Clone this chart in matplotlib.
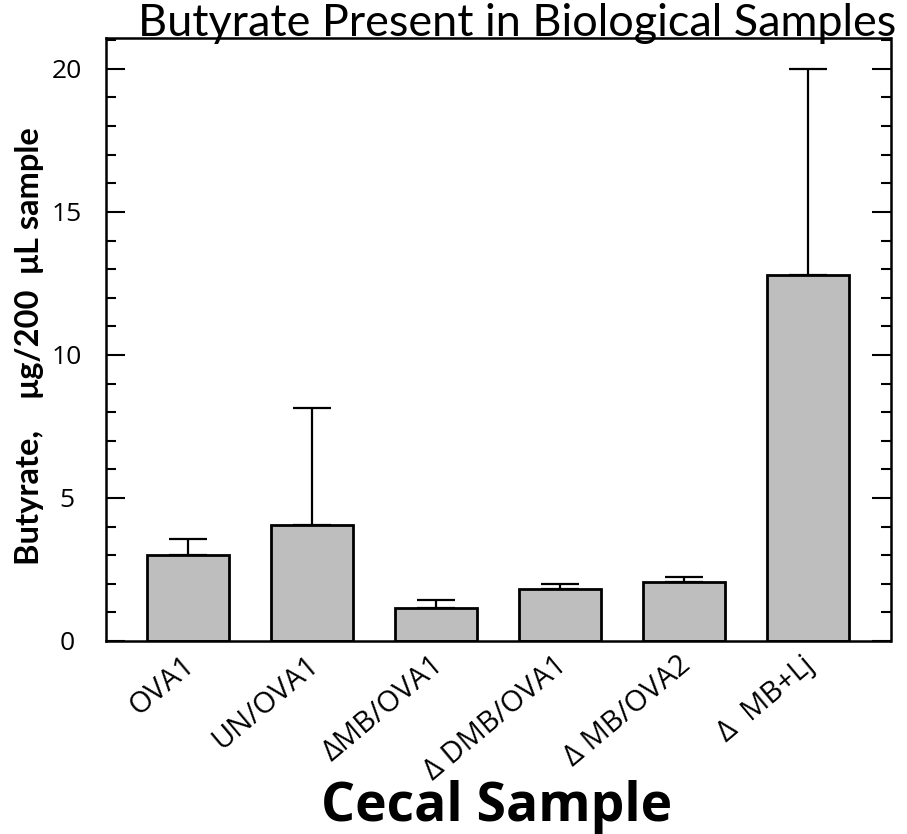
import numpy as np
import matplotlib
matplotlib.use("Agg")
import matplotlib.pyplot as plt
import matplotlib.transforms as mtransforms
from matplotlib.ticker import MultipleLocator

samples = ["OVA1", "UN/OVA1", "\u0394MB/OVA1", "\u0394 DMB/OVA1", "\u0394 MB/OVA2", "\u0394  MB+Lj"]
butyrate = [3.01, 4.07, 1.14, 1.83, 2.05, 12.79]
err_upper = [0.55, 4.08, 0.29, 0.15, 0.18, 7.22]

fig = plt.figure(figsize=(9.07, 8.34), dpi=100)
ax = fig.add_axes([106/907, 1 - 641/834, (890.5 - 106)/907, (641 - 38)/834])

x = np.arange(len(samples))
ax.bar(x, butyrate, width=0.66, color="#bebebe", edgecolor="black", linewidth=2.0,
       zorder=2)
ax.errorbar(x, butyrate, yerr=[np.zeros(len(x)), err_upper], fmt="none",
            ecolor="black", elinewidth=1.6, capsize=14, capthick=1.6, zorder=1)

ax.set_xlim(-0.661, 5.665)
ax.set_ylim(0, 21.08)
ax.yaxis.set_major_locator(MultipleLocator(5))
ax.yaxis.set_minor_locator(MultipleLocator(1))
ax.tick_params(axis="y", which="major", direction="in", length=14, width=1.5,
               left=True, right=True, labelsize=19, pad=28)
ax.tick_params(axis="y", which="minor", direction="in", length=7, width=1.5,
               left=True, right=True)
ax.tick_params(axis="x", length=0, pad=7)
for lab in ax.get_yticklabels():
    lab.set_fontfamily("Open Sans")
    lab.set_horizontalalignment("center")

ax.set_xticks(x)
ax.set_xticklabels(samples, rotation=40, ha="right", rotation_mode="anchor",
                   fontsize=21, fontfamily="Open Sans")
shift = mtransforms.ScaledTranslation(-6/100, 0, fig.dpi_scale_trans)
for lab in ax.get_xticklabels():
    lab.set_transform(lab.get_transform() + shift)

for s in ax.spines.values():
    s.set_linewidth(1.8)
    s.set_color("black")

fig.text(0.57, 0.957, "Butyrate Present in Biological Samples", ha="center",
         va="baseline", fontsize=32.4, fontfamily="Lato")
fig.text(0.033, 0.585, "Butyrate,    \u03bcg/200  \u03bcL sample", rotation=90,
         ha="center", va="center", fontsize=23.5, fontweight="bold", fontfamily="Lato")
fig.text(0.548, 0.016, "Cecal Sample", ha="center", va="baseline", fontsize=38.5,
         fontweight="bold", fontfamily="Open Sans")

fig.savefig("out.png", dpi=100)
